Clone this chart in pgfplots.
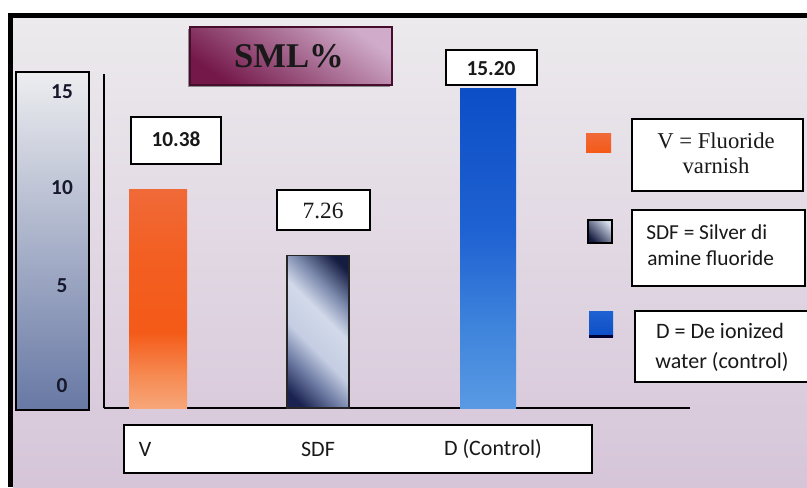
\documentclass[border=0pt]{standalone}
\usepackage{pgfplots}
\pgfplotsset{compat=1.18}
\usepackage{fontspec}
\setmainfont{Carlito}
\newfontfamily\serifc{Liberation Serif}
\definecolor{bgtop}{HTML}{ECEAED}
\definecolor{bgmid}{HTML}{E4DEE5}
\definecolor{bgbot}{HTML}{D6C5D9}
\definecolor{pantop}{HTML}{EDEDF0}
\definecolor{panmid}{HTML}{A9B3C9}
\definecolor{panbot}{HTML}{6778A4}
\definecolor{vtop}{HTML}{F06A38}
\definecolor{vmid}{HTML}{F45A18}
\definecolor{smid}{HTML}{D3DAEA}
\definecolor{sright}{HTML}{141C40}
\definecolor{dtop}{HTML}{0C4EC6}
\definecolor{dmid}{HTML}{1F62D2}
\definecolor{ttop}{HTML}{D0ACCA}
\definecolor{tbot}{HTML}{74184A}
\definecolor{txt}{HTML}{18182C}
\definecolor{vbot0}{HTML}{F7A679}
\definecolor{vlow}{HTML}{F68A52}
\definecolor{vmid2}{HTML}{F35F22}
\definecolor{dbot0}{HTML}{5A9AE4}
\definecolor{dlow}{HTML}{3F84DC}
\definecolor{s1}{HTML}{1A2250}
\definecolor{s2}{HTML}{6E7CA4}
\definecolor{s3}{HTML}{C4CDE2}
\definecolor{s4}{HTML}{D2D9EA}
\definecolor{s5}{HTML}{7886AA}
\definecolor{s6}{HTML}{141C40}
\pgfdeclareverticalshading{vbarshade}{100bp}{color(0bp)=(vbot0); color(25bp)=(vbot0); color(32.5bp)=(vlow); color(42.5bp)=(vmid); color(60bp)=(vmid2); color(75bp)=(vtop); color(100bp)=(vtop)}
\pgfdeclareverticalshading{dbarshade}{100bp}{color(0bp)=(dbot0); color(25bp)=(dbot0); color(37.5bp)=(dlow); color(52.5bp)=(dmid); color(75bp)=(dtop); color(100bp)=(dtop)}
\pgfdeclarehorizontalshading{sbarshade}{100bp}{color(0bp)=(s1); color(20bp)=(s1); color(32bp)=(s2); color(43bp)=(s3); color(57bp)=(s4); color(68bp)=(s5); color(80bp)=(s6); color(100bp)=(s6)}
\begin{document}
\begin{tikzpicture}[x=0.75pt,y=0.75pt]
\useasboundingbox (0,0) rectangle (807,487);
\clip (0,0) rectangle (807,487);
\fill[white] (0,0) rectangle (807,487);
\shade[top color=bgtop, middle color=bgmid, bottom color=bgbot] (13,0) rectangle (807,469);
\fill[black] (8,0) rectangle (13,474);
\fill[black] (8,469) rectangle (807,474);
% y label panel
\shade[top color=pantop, middle color=panmid, bottom color=panbot] (16,77) rectangle (89,415);
\draw[black, line width=0.8pt] (16,77) rectangle (89,415);
% title
\fill[black!70, opacity=0.6] (188,400) rectangle (390,458);
\shade[shading=axis, top color=ttop, bottom color=tbot, shading angle=-35] (190,402) rectangle (392,460);
\draw[color=tbot!60!black, line width=0.8pt] (190,402) rectangle (392,460);
\node[font=\serifc\bfseries\fontsize{26}{30}\selectfont, text=black!90] at (289,431) {SML\%};
% category box
\filldraw[fill=white, draw=black, line width=0.8pt] (124,14) rectangle (592,62);
% value boxes
\filldraw[fill=white, draw=black, line width=0.8pt] (131,323) rectangle (221,370);
\node[font=\bfseries\fontsize{16}{19}\selectfont, text=black!90] at (176,348) {10.38};
\filldraw[fill=white, draw=black, line width=0.8pt] (277,257) rectangle (370,297);
\node[font=\serifc\fontsize{17.5}{20}\selectfont, text=black!90] at (323,276) {7.26};
\filldraw[fill=white, draw=black, line width=0.8pt] (446,402) rectangle (537,437);
\node[font=\bfseries\fontsize{16}{19}\selectfont, text=black!90] at (491,418) {15.20};
% legend
\shade[top color=vtop, bottom color=vmid] (586,335) rectangle (611,354);
\shade[shading=axis, top color=smid, bottom color=sright, shading angle=-45] (588,244) rectangle (612,267);
\draw[black, line width=0.8pt] (588,244) rectangle (612,267);
\shade[top color=dmid, bottom color=dtop] (589,151) rectangle (613,176);
\fill[black!80!blue] (589,149) rectangle (613,152);
\filldraw[fill=white, draw=black, line width=0.8pt] (632,296) rectangle (803,368);
\node[font=\serifc\fontsize{17}{20}\selectfont, text=black!90] at (716,346) {V = Fluoride};
\node[font=\serifc\fontsize{17}{20}\selectfont, text=black!90] at (716,321) {varnish};
\filldraw[fill=white, draw=black, line width=0.8pt] (632,201) rectangle (805,277);
\node[font=\fontsize{16}{19}\selectfont, text=black!90, anchor=west, inner sep=0pt] at (646,255) {SDF = Silver di};
\node[font=\fontsize{16}{19}\selectfont, text=black!90, anchor=west, inner sep=0pt] at (647,229) {amine fluoride};
\filldraw[fill=white, draw=black, line width=0.8pt] (635,105) rectangle (815,176);
\node[font=\fontsize{16.5}{19}\selectfont, text=black!90] at (720,156) {D = De ionized};
\node[font=\fontsize{16.5}{19}\selectfont, text=black!90] at (722,125) {water (control)};
\begin{axis}[
  at={(78pt,59.25pt)}, anchor=south west,
  scale only axis, width=439.5pt, height=250.5pt,
  xmin=104, xmax=690, ymin=0, ymax=15.9,
  axis lines=left,
  axis line style={-, black, line width=1.1pt},
  major tick length=0pt,
  xtick={145,318,493},
  xticklabels={V,SDF,D (Control)},
  xticklabel style={anchor=center, yshift=-30.75pt, font=\fontsize{16.5}{19}\selectfont, text=black!90},
  ytick={1.05,5.81,10.48,15.05},
  yticklabels={0,5,10,15},
  yticklabel style={anchor=center, xshift=-31.5pt, font=\bfseries\fontsize{16}{19}\selectfont, text=txt},
  /pgf/number format/assume math mode=true,
  clip=false,
]
\addplot[ybar, bar shift=0pt, bar width=58, draw=none, shade, shading=vbarshade] coordinates {(158,10.38)};
\addplot[ybar, bar shift=0pt, bar width=62, draw=black!85, line width=0.8pt, shade, shading=sbarshade, shading angle=45] coordinates {(318,7.26)};
\addplot[ybar, bar shift=0pt, bar width=56, draw=none, shade, shading=dbarshade] coordinates {(488,15.20)};
\end{axis}
\end{tikzpicture}
\end{document}
